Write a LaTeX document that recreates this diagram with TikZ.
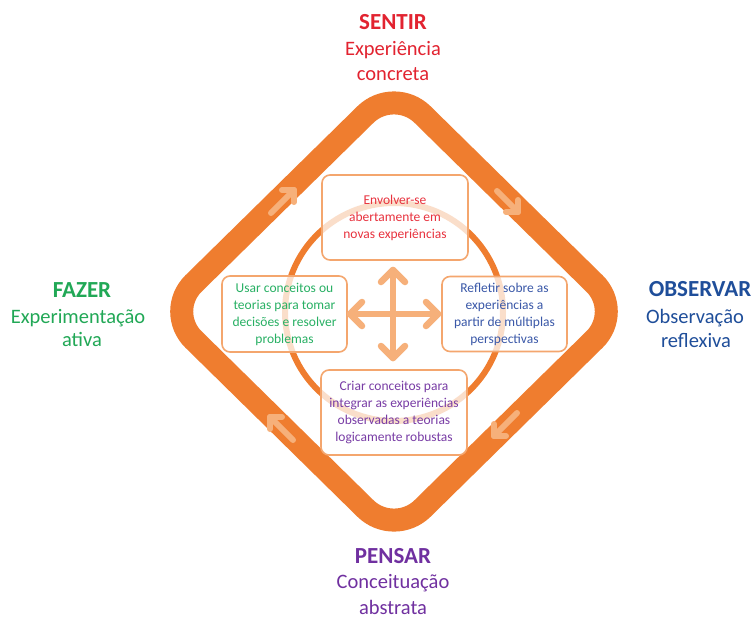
\documentclass[tikz,border=0pt]{standalone}
\usepackage{fontspec}
\setmainfont{Carlito}
\definecolor{bandor}{RGB}{239,125,47}
\definecolor{lightor}{RGB}{246,176,122}
\definecolor{boxor}{RGB}{244,166,110}
\definecolor{sred}{RGB}{226,35,48}
\definecolor{bred}{RGB}{232,50,62}
\definecolor{fgreen}{RGB}{33,168,86}
\definecolor{bgreen}{RGB}{40,176,100}
\definecolor{oblue}{RGB}{31,78,154}
\definecolor{bblue}{RGB}{58,88,168}
\definecolor{ppurple}{RGB}{112,48,160}
\definecolor{bpurple}{RGB}{120,60,165}
\tikzset{
  band/.style={draw=bandor, line width=23pt, rounded corners=40pt, line join=round},
  ring/.style={draw=bandor, line width=6pt},
  flowarrow/.style={draw=lightor, line width=6pt, line cap=round, line join=round},
  crossarrow/.style={draw=lightor, line width=6.5pt, line cap=round, line join=round},
  stagebox/.style={draw=boxor, line width=1.6pt, rounded corners=8pt, fill=white,
    fill opacity=0.75, text opacity=1, align=center, inner sep=2pt,
    font=\fontsize{13.5}{17}\selectfont},
  headlab/.style={anchor=base, font=\bfseries\fontsize{23}{26}\selectfont},
  sublab/.style={anchor=base, font=\fontsize{20.5}{24}\selectfont},
}
\begin{document}
\begin{tikzpicture}[x=1pt,y=-1pt]
\useasboundingbox[fill=white] (0,0) rectangle (756,621);

% outer cycle band (rounded diamond)
\coordinate (dtop) at (394,86.5);
\coordinate (dright) at (623,311.5);
\coordinate (dbottom) at (394,536.5);
\coordinate (dleft) at (165,311.5);
\coordinate (dstart) at (279.5,199);
\path[band] (dstart) -- (dtop) -- (dright) -- (dbottom) -- (dleft) -- cycle;

% direction arrows on the band
\coordinate (tlTip) at (294,190);
\coordinate (trTip) at (518,212);
\coordinate (brTip) at (494,436);
\coordinate (blTip) at (270,417);
\draw[flowarrow] (271,213) -- (tlTip);
\draw[flowarrow] (tlTip) ++(-12,0) -- (tlTip) -- ++(0,12);
\draw[flowarrow] (497,191) -- (trTip);
\draw[flowarrow] (trTip) ++(-12,0) -- (trTip) -- ++(0,-12);
\draw[flowarrow] (517,413) -- (brTip);
\draw[flowarrow] (brTip) ++(12,0) -- (brTip) -- ++(0,-12);
\draw[flowarrow] (293,440) -- (blTip);
\draw[flowarrow] (blTip) ++(12,0) -- (blTip) -- ++(0,12);

% inner circle
\path[ring] (394,312) circle[radius=109pt];

% stage boxes
\node[stagebox, text=bred, minimum width=146pt, minimum height=85pt] (envolver) at (395,217.5)
  {Envolver-se\\abertamente em\\novas experiências};
\node[stagebox, text=bgreen, minimum width=125pt, minimum height=76pt] (usar) at (284.5,314)
  {Usar conceitos ou\\teorias para tomar\\decisões e resolver\\problemas};
\node[stagebox, text=bblue, minimum width=125pt, minimum height=75pt] (refletir) at (504.5,314)
  {Refletir sobre as\\experiências a\\partir de múltiplas\\perspectivas};
\node[stagebox, text=bpurple, minimum width=146pt, minimum height=85pt] (criar) at (394,412.5)
  {Criar conceitos para\\integrar as experiências\\observadas a teorias\\logicamente robustas};

% central four-way arrow
\coordinate (cUp) at (393,270);
\coordinate (cDown) at (393,358);
\coordinate (cLeft) at (350,314);
\coordinate (cRight) at (438,314);
\draw[crossarrow] (cUp) -- (cDown);
\draw[crossarrow] (cLeft) -- (cRight);
\draw[crossarrow] (cUp) ++(-12,12) -- (cUp) -- ++(12,12);
\draw[crossarrow] (cDown) ++(-12,-12) -- (cDown) -- ++(12,-12);
\draw[crossarrow] (cLeft) ++(12,-12) -- (cLeft) -- ++(12,12);
\draw[crossarrow] (cRight) ++(-12,-12) -- (cRight) -- ++(-12,12);

% stage labels
\node[headlab, text=sred] (sentir) at (393,29) {SENTIR};
\node[sublab, text=sred] (sentirA) at (393,55) {Experiência};
\node[sublab, text=sred] (sentirB) at (393,80) {concreta};

\node[headlab, text=oblue] (observar) at (700,296) {OBSERVAR};
\node[sublab, text=oblue] (observarA) at (695,323) {Observação};
\node[sublab, text=oblue] (observarB) at (696,347) {reflexiva};

\node[headlab, text=ppurple] (pensar) at (393,563) {PENSAR};
\node[sublab, text=ppurple] (pensarA) at (393,588) {Conceituação};
\node[sublab, text=ppurple] (pensarB) at (393,614) {abstrata};

\node[headlab, text=fgreen] (fazer) at (82,297) {FAZER};
\node[sublab, text=fgreen] (fazerA) at (78,323) {Experimentação};
\node[sublab, text=fgreen] (fazerB) at (82,346) {ativa};
\end{tikzpicture}
\end{document}
